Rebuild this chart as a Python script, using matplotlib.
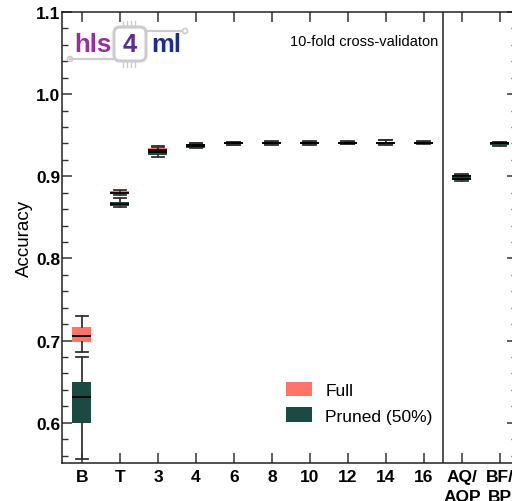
import numpy as np
import matplotlib.pyplot as plt
from matplotlib.patches import Patch, FancyBboxPatch, Circle
from matplotlib.ticker import MultipleLocator

# categories on x
labels = ['B', 'T', '3', '4', '6', '8', '10', '12', '14', '16', 'AQ/\nAQP', 'BF/\nBP']

# Full model box stats
full_lo  = [0.686, 0.877, 0.929, 0.936, 0.938, 0.939, 0.939, 0.939, 0.939, 0.940, 0.897, 0.938]
full_q1  = [0.698, 0.878, 0.931, 0.937, 0.939, 0.940, 0.940, 0.940, 0.940, 0.940, 0.898, 0.939]
full_med = [0.706, 0.880, 0.932, 0.938, 0.940, 0.941, 0.941, 0.941, 0.941, 0.941, 0.900, 0.940]
full_q3  = [0.716, 0.882, 0.934, 0.939, 0.941, 0.942, 0.942, 0.942, 0.942, 0.942, 0.902, 0.941]
full_hi  = [0.730, 0.883, 0.937, 0.940, 0.942, 0.943, 0.943, 0.943, 0.944, 0.943, 0.903, 0.942]

# Pruned (50%) box stats
pruned_lo  = [0.556, 0.863, 0.924, 0.934, 0.938, 0.938, 0.938, 0.939, 0.938, 0.939, 0.894, 0.937]
pruned_q1  = [0.600, 0.864, 0.926, 0.935, 0.939, 0.939, 0.939, 0.940, 0.939, 0.940, 0.895, 0.938]
pruned_med = [0.631, 0.866, 0.929, 0.937, 0.940, 0.940, 0.940, 0.940, 0.940, 0.940, 0.897, 0.940]
pruned_q3  = [0.650, 0.869, 0.931, 0.939, 0.941, 0.941, 0.941, 0.941, 0.941, 0.941, 0.899, 0.941]
pruned_hi  = [0.680, 0.873, 0.936, 0.940, 0.942, 0.942, 0.942, 0.942, 0.944, 0.942, 0.901, 0.942]

c_full = '#FF7468'
c_pruned = '#1B4A43'

plt.rcParams['font.family'] = ['Liberation Sans', 'DejaVu Sans']

W, H = 512, 502
fig = plt.figure(figsize=(W / 100, H / 100), dpi=100)
# axes in pixel terms: left 62, right beyond edge, top 13, bottom 464
ax = fig.add_axes([62 / W, 1 - 464 / H, (517 - 62) / W, (464 - 13) / H])

pos = np.arange(len(labels))

def stats(lo, q1, med, q3, hi):
    return [dict(whislo=a, q1=b, med=c, q3=d, whishi=e, fliers=[])
            for a, b, c, d, e in zip(lo, q1, med, q3, hi)]

for st, col in [(stats(full_lo, full_q1, full_med, full_q3, full_hi), c_full),
                (stats(pruned_lo, pruned_q1, pruned_med, pruned_q3, pruned_hi), c_pruned)]:
    ax.bxp(st, positions=pos, widths=0.5, capwidths=0.34, patch_artist=True,
           showfliers=False,
           boxprops=dict(facecolor=col, edgecolor='none'),
           medianprops=dict(color='black', lw=1.3),
           whiskerprops=dict(color='#333333', lw=1.3),
           capprops=dict(color='#333333', lw=1.3))

ax.axvline(9.5, color='#222222', lw=1.1)

ax.set_xlim(-0.526, 11.45)
ax.set_ylim(0.551, 1.1)
ax.set_xticks(pos)
ax.set_xticklabels(labels, fontsize=12.5, fontweight='bold', linespacing=1.45)
ax.yaxis.set_major_locator(MultipleLocator(0.1))
ax.yaxis.set_minor_locator(MultipleLocator(0.02))
ax.set_yticklabels([f'{v:.1f}' for v in ax.get_yticks()])
ax.tick_params(axis='y', labelsize=12.5, pad=1)
for t in ax.get_yticklabels():
    t.set_fontweight('bold')
ax.tick_params(which='major', direction='in', length=7.2, width=1.1, color='#333333',
               top=True, right=True)
ax.tick_params(axis='x', pad=4)
ax.tick_params(which='minor', direction='in', length=4.3, width=1.0, color='#333333',
               right=True)
ax.tick_params(axis='x', which='minor', bottom=False, top=False)
for s in ax.spines.values():
    s.set_color('#222222')
    s.set_linewidth(1.1)

ax.set_ylabel('Accuracy', fontsize=13.5, labelpad=2)

ax.text(0.826, 0.936, '10-fold cross-validaton', transform=ax.transAxes,
        ha='right', va='center', fontsize=10.5)

ax.legend(handles=[Patch(facecolor=c_full, edgecolor='none', label='Full'),
                   Patch(facecolor=c_pruned, edgecolor='none', label='Pruned (50%)')],
          loc='upper left', bbox_to_anchor=(0.457, 0.215), frameon=False,
          fontsize=12.5, handlelength=1.5, handleheight=0.9, labelspacing=0.55,
          handletextpad=0.8)

# hls4ml logo (figure pixel coordinates)
def px(x, y):
    return x / W, 1 - y / H

grey = '#cccccc'
fig.add_artist(FancyBboxPatch(px(114, 62), 32 / W, 34 / H,
                              boxstyle='round,pad=0.0,rounding_size=0.012',
                              transform=fig.transFigure, facecolor='white',
                              edgecolor=grey, lw=2.2))
for x0, y0, x1, y1 in [(70, 60, 114, 60), (146, 32, 182, 32)]:
    fig.add_artist(plt.Line2D([px(x0, y0)[0], px(x1, y1)[0]],
                              [px(x0, y0)[1], px(x1, y1)[1]],
                              transform=fig.transFigure, color=grey, lw=1.5))
for cx, cy in [(70, 60), (185, 32)]:
    fig.add_artist(Circle(px(cx, cy), 2.5 / W, transform=fig.transFigure,
                          facecolor='white', edgecolor=grey, lw=1.2))
for xp in [123, 127, 131, 135]:
    for ya, yb in [(22, 28), (62, 68)]:
        fig.add_artist(plt.Line2D([xp / W, xp / W], [1 - ya / H, 1 - yb / H],
                                  transform=fig.transFigure, color=grey, lw=1.0))
fig.text(*px(74, 45), 'hls', color='#9B2C9B', fontsize=18.5, fontweight='bold',
         ha='left', va='center')
fig.text(*px(130, 45), '4', color='#5A2D9C', fontsize=18.5, fontweight='bold',
         ha='center', va='center')
fig.text(*px(151, 45), 'ml', color='#1E2C8C', fontsize=18.5, fontweight='bold',
         ha='left', va='center')

fig.savefig('out.png', dpi=100)
